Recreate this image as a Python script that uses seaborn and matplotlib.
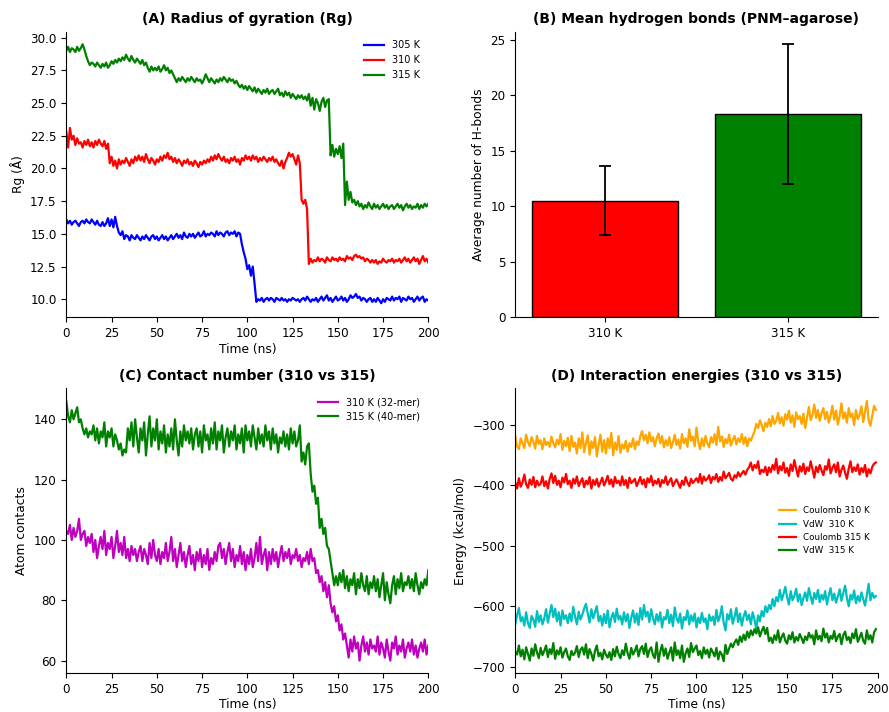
import numpy as np
import pandas as pd
import matplotlib
matplotlib.use("Agg")
import matplotlib.pyplot as plt
import seaborn as sns

# ---------------- Panel A: radius of gyration (t = 0..200 ns, 1 ns step) ----------------
rg_305 = [16.1, 15.8, 16.0, 15.7, 15.9, 16.0, 15.8, 15.6, 15.9, 16.0,
          15.8, 16.1, 15.9, 15.8, 16.1, 15.9, 15.7, 16.0, 15.7, 15.6,
          15.9, 15.6, 15.8, 16.2, 15.6, 16.1, 15.5, 16.3, 15.6, 15.1,
          14.9, 15.2, 14.6, 14.9, 14.8, 14.5, 14.9, 14.7, 14.6, 14.9,
          14.7, 14.5, 14.8, 14.6, 14.9, 14.7, 14.5, 14.8, 14.9, 14.6,
          14.8, 14.5, 14.7, 14.9, 14.6, 14.8, 14.5, 14.7, 14.9, 14.6,
          14.8, 15.0, 14.7, 14.9, 14.6, 15.1, 14.8, 14.7, 15.0, 14.8,
          15.0, 14.7, 14.9, 15.1, 14.8, 14.9, 15.2, 14.8, 15.0, 14.9,
          15.1, 15.0, 14.8, 15.2, 14.9, 15.1, 15.0, 14.8, 15.1, 15.2,
          14.9, 15.1, 15.0, 15.2, 14.8, 15.1, 15.0, 14.2, 13.6, 13.1,
          12.3, 12.6, 11.8, 12.5, 11.2, 9.8, 10.0, 9.9, 10.1, 9.8,
          10.0, 10.1, 9.9, 10.1, 10.0, 9.8, 10.1, 10.0, 9.9, 10.1,
          9.9, 10.0, 9.8, 10.0, 9.9, 10.1, 10.0, 9.9, 10.0, 9.8,
          10.0, 10.1, 9.9, 10.2, 10.0, 9.8, 10.0, 9.9, 10.1, 9.8,
          10.0, 10.2, 9.9, 10.1, 10.3, 9.9, 10.1, 9.8, 10.0, 10.2,
          9.9, 10.0, 10.2, 9.9, 10.1, 9.8, 10.0, 10.3, 10.1, 10.2,
          10.4, 10.1, 10.2, 9.9, 10.1, 10.0, 9.8, 10.0, 10.1, 9.8,
          10.0, 9.8, 10.1, 9.9, 9.7, 10.0, 9.8, 10.1, 10.0, 9.9,
          10.2, 9.9, 10.1, 10.0, 10.2, 9.8, 10.1, 10.0, 9.9, 10.2,
          10.0, 10.1, 9.8, 10.0, 10.2, 9.9, 10.1, 10.2, 9.8, 10.0,
          9.9]
rg_310 = [22.8, 21.6, 23.1, 22.2, 22.5, 21.8, 22.3, 21.9, 22.0, 21.6,
          22.1, 21.8, 22.2, 21.7, 22.0, 21.6, 22.1, 21.8, 22.2, 21.9,
          21.7, 22.1, 21.5, 21.9, 20.4, 20.9, 20.2, 20.6, 20.0, 20.7,
          20.3, 20.6, 20.4, 20.8, 20.5, 20.2, 20.7, 20.4, 20.9, 20.6,
          21.0, 20.6, 20.9, 20.5, 21.1, 20.7, 20.4, 20.8, 20.6, 20.3,
          20.7, 20.5, 20.9, 20.6, 21.0, 20.8, 21.2, 20.7, 20.9, 20.5,
          20.8, 20.4, 20.7, 20.5, 20.2, 20.6, 20.4, 20.7, 20.3, 20.5,
          20.2, 20.6, 20.4, 20.1, 20.5, 20.3, 20.6, 20.4, 20.7, 20.5,
          20.9, 20.6, 21.0, 20.7, 21.1, 20.8, 20.6, 20.9, 20.5, 20.7,
          20.4, 20.8, 20.6, 20.9, 20.5, 20.7, 20.3, 20.8, 20.6, 21.0,
          20.7, 20.9, 20.6, 21.0, 20.7, 20.9, 20.5, 20.8, 20.6, 20.9,
          20.7, 20.5, 20.8, 20.6, 20.9, 20.5, 20.7, 20.4, 20.2, 20.6,
          20.0, 20.5, 20.8, 21.2, 20.9, 21.1, 20.7, 20.3, 21.0, 20.4,
          17.6, 17.3, 17.6, 16.9, 12.7, 13.1, 12.8, 13.0, 12.9, 13.2,
          12.9, 13.1, 13.0, 12.8, 13.2, 13.0, 12.9, 13.2, 13.0, 13.1,
          12.9, 13.2, 13.0, 13.1, 12.9, 13.3, 13.1, 13.2, 13.0, 13.3,
          13.4, 13.2, 13.3, 13.1, 13.2, 12.9, 13.1, 13.0, 12.8, 13.0,
          12.8, 13.0, 12.7, 12.9, 12.8, 13.1, 12.9, 12.8, 13.0, 12.9,
          13.1, 12.8, 13.0, 12.9, 13.1, 12.8, 13.0, 13.2, 12.9, 13.1,
          12.8, 13.0, 13.2, 12.9, 13.1, 12.7, 13.0, 13.3, 12.9, 13.1,
          12.8]
rg_315 = [29.0, 29.3, 28.9, 29.2, 29.1, 28.9, 29.3, 29.0, 29.2, 29.5,
          29.1, 28.6, 28.2, 27.9, 28.1, 28.0, 27.8, 28.1, 27.9, 27.7,
          28.0, 27.8, 28.1, 27.7, 27.9, 28.2, 28.0, 28.3, 28.1, 28.4,
          28.2, 28.5, 28.3, 28.7, 28.4, 28.2, 28.6, 28.3, 28.1, 28.4,
          28.2, 28.0, 28.3, 27.9, 28.1, 27.7, 27.4, 27.8, 27.5, 27.7,
          27.5, 27.8, 27.4, 27.6, 27.9, 27.5, 27.7, 27.3, 27.5, 27.2,
          26.9, 26.6, 26.9, 26.7, 27.0, 26.8, 26.6, 26.9, 26.7, 27.0,
          26.8, 26.6, 26.9, 26.7, 26.8, 26.5, 26.8, 27.2, 26.9, 26.6,
          26.9, 26.7, 26.5, 26.8, 26.6, 26.9, 26.7, 27.0, 26.8, 26.6,
          26.9, 26.7, 26.8, 26.5, 26.7, 26.4, 26.2, 26.4, 26.1, 26.3,
          26.0, 26.3, 26.1, 25.9, 26.2, 25.8, 26.1, 25.9, 25.7, 26.0,
          25.8, 26.1, 25.7, 25.9, 26.0, 25.7, 25.9, 26.1, 25.6, 25.8,
          25.5, 25.9, 25.6, 25.8, 25.4, 25.7, 25.5, 25.3, 25.6, 25.4,
          25.6, 25.3, 25.5, 25.2, 25.7, 24.8, 25.4, 24.5, 25.3, 25.0,
          24.4, 25.1, 25.4, 24.7, 25.2, 25.3, 21.0, 21.8, 20.9, 21.5,
          21.1, 21.7, 20.8, 21.9, 17.2, 19.0, 17.6, 18.2, 17.4, 17.6,
          17.2, 17.5, 17.1, 17.3, 16.9, 17.2, 17.0, 17.4, 17.1, 16.9,
          17.3, 17.0, 17.2, 16.9, 17.1, 17.3, 17.0, 17.2, 16.9, 17.1,
          17.2, 16.9, 17.1, 17.3, 17.0, 17.2, 16.8, 17.1, 17.3, 17.0,
          17.2, 16.9, 17.1, 17.0, 17.3, 16.9, 17.2, 17.0, 17.3, 17.1,
          17.3]

# ---------------- Panel B: mean H-bonds ----------------
hb_labels = ["310 K", "315 K"]
hb_mean = [10.5, 18.3]
hb_sd = [3.1, 6.3]

# ---------------- Panel C: contact number (t = 0..200 ns) ----------------
cn_310 = [103, 102, 105, 100, 104, 101, 103, 107, 100, 102,
          103, 98, 101, 99, 102, 96, 100, 94, 98, 101,
          97, 103, 95, 99, 97, 101, 94, 98, 103, 96,
          99, 95, 101, 94, 97, 93, 98, 95, 97, 93,
          96, 98, 93, 97, 95, 92, 99, 94, 100, 95,
          93, 97, 92, 96, 94, 99, 93, 96, 101, 93,
          97, 91, 95, 99, 93, 96, 91, 95, 98, 92,
          95, 90, 96, 93, 97, 91, 95, 92, 97, 90,
          94, 92, 96, 93, 98, 99, 94, 97, 92, 96,
          99, 93, 97, 91, 95, 93, 98, 92, 96, 90,
          95, 92, 97, 91, 94, 99, 93, 101, 92, 95,
          97, 90, 96, 92, 97, 93, 96, 91, 95, 98,
          93, 96, 94, 97, 92, 95, 94, 97, 93, 95,
          91, 94, 93, 96, 92, 97, 93, 94, 89, 90,
          86, 88, 83, 86, 81, 85, 79, 76, 78, 73,
          75, 70, 72, 67, 69, 65, 61, 67, 63, 68,
          64, 66, 60, 65, 68, 63, 66, 62, 67, 64,
          65, 63, 68, 62, 66, 64, 61, 67, 63, 60,
          66, 64, 68, 62, 65, 63, 67, 61, 64, 66,
          63, 67, 62, 65, 61, 64, 66, 63, 67, 62,
          65]
cn_315 = [146, 141, 139, 143, 140, 142, 144, 139, 140, 137,
          135, 137, 134, 136, 135, 138, 133, 137, 132, 136,
          134, 139, 131, 136, 134, 137, 131, 135, 133, 130,
          132, 128, 130, 129, 137, 133, 139, 131, 140, 134,
          129, 137, 133, 139, 128, 135, 141, 131, 137, 133,
          140, 130, 136, 132, 138, 129, 135, 131, 137, 130,
          140, 133, 128, 136, 131, 138, 133, 136, 132, 137,
          130, 135, 137, 131, 136, 129, 138, 133, 135, 130,
          137, 132, 139, 130, 136, 133, 138, 129, 134, 137,
          131, 136, 133, 138, 130, 135, 132, 137, 129, 138,
          133, 136, 131, 138, 134, 130, 137, 132, 135, 131,
          138, 133, 136, 130, 137, 132, 135, 129, 134, 132,
          136, 131, 135, 130, 137, 132, 136, 131, 133, 138,
          126, 129, 125, 131, 132, 122, 116, 118, 112, 114,
          104, 107, 102, 104, 98, 97, 93, 89, 85, 88,
          85, 89, 86, 90, 84, 88, 83, 87, 85, 89,
          82, 87, 84, 89, 85, 83, 88, 82, 86, 84,
          88, 83, 87, 81, 85, 89, 80, 86, 82, 79,
          85, 88, 82, 87, 84, 89, 83, 86, 85, 88,
          84, 87, 83, 89, 85, 82, 86, 84, 87, 85,
          90]

# ---------------- Panel D: interaction energies (t = 0..199 ns) ----------------
coul_310 = [-318, -335, -340, -322, -330, -338, -316, -328, -335, -320,
            -327, -339, -318, -331, -325, -340, -322, -333, -328, -336,
            -319, -330, -337, -324, -332, -315, -341, -326, -335, -321,
            -343, -318, -336, -329, -347, -322, -338, -312, -345, -330,
            -317, -349, -327, -338, -320, -352, -333, -316, -344, -325,
            -347, -322, -338, -313, -350, -329, -341, -318, -346, -332,
            -339, -326, -344, -330, -336, -322, -340, -327, -333, -318,
            -310, -325, -316, -330, -312, -327, -320, -335, -322, -314,
            -330, -318, -337, -325, -334, -320, -338, -329, -316, -333,
            -324, -339, -315, -330, -322, -336, -307, -326, -319, -335,
            -304, -328, -340, -322, -335, -318, -330, -337, -320, -329,
            -315, -333, -303, -327, -319, -336, -323, -330, -316, -334,
            -325, -318, -332, -322, -328, -315, -331, -320, -335, -322,
            -326, -318, -311, -298, -305, -292, -300, -310, -296, -303,
            -290, -302, -285, -298, -293, -280, -297, -287, -301, -282,
            -291, -276, -296, -284, -303, -279, -290, -285, -298, -281,
            -305, -287, -270, -292, -283, -266, -288, -275, -293, -280,
            -272, -290, -278, -296, -284, -268, -291, -276, -299, -285,
            -264, -289, -279, -296, -272, -287, -281, -300, -275, -290,
            -283, -269, -295, -278, -260, -292, -301, -284, -268, -275]
vdw_310 = [-630, -615, -603, -625, -618, -632, -610, -628, -636, -616,
           -622, -634, -608, -626, -615, -630, -620, -605, -627, -612,
           -598, -618, -604, -625, -610, -632, -607, -621, -615, -628,
           -612, -625, -601, -617, -630, -609, -622, -614, -604, -596,
           -612, -627, -605, -620, -610, -600, -625, -616, -632, -613,
           -628, -607, -635, -619, -611, -626, -604, -622, -616, -630,
           -610, -625, -613, -636, -619, -607, -627, -612, -631, -603,
           -622, -598, -617, -609, -626, -605, -620, -630, -613, -625,
           -610, -635, -618, -622, -606, -628, -614, -633, -602, -620,
           -627, -612, -637, -618, -623, -607, -630, -615, -625, -612,
           -635, -619, -628, -611, -626, -620, -638, -614, -624, -617,
           -631, -606, -625, -616, -600, -627, -640, -613, -622, -605,
           -629, -618, -603, -626, -612, -632, -617, -608, -623, -614,
           -630, -610, -622, -638, -615, -625, -608, -617, -600, -610,
           -598, -605, -588, -600, -585, -592, -573, -590, -580, -568,
           -585, -597, -575, -590, -583, -571, -592, -580, -598, -586,
           -577, -591, -570, -584, -596, -578, -588, -573, -593, -581,
           -589, -575, -597, -582, -570, -590, -579, -594, -584, -572,
           -591, -578, -566, -586, -600, -581, -589, -574, -595, -583,
           -592, -577, -588, -599, -582, -563, -590, -578, -586, -583]
coul_315 = [-395, -405, -388, -402, -395, -382, -398, -404, -390, -399,
            -386, -403, -392, -400, -397, -385, -401, -393, -405, -389,
            -380, -396, -384, -399, -392, -403, -387, -395, -381, -398,
            -392, -404, -389, -397, -385, -401, -394, -388, -403, -392,
            -398, -386, -405, -391, -399, -389, -402, -395, -387, -400,
            -393, -384, -398, -390, -402, -386, -396, -392, -400, -385,
            -399, -391, -404, -387, -396, -393, -389, -401, -394, -386,
            -398, -390, -403, -388, -395, -384, -400, -392, -397, -389,
            -402, -391, -396, -385, -399, -393, -388, -401, -395, -390,
            -397, -404, -392, -399, -386, -395, -401, -389, -396, -392,
            -388, -395, -381, -397, -385, -392, -389, -383, -396, -386,
            -390, -381, -394, -386, -392, -377, -388, -384, -379, -389,
            -392, -383, -387, -378, -385, -380, -376, -382, -374, -370,
            -362, -375, -366, -371, -360, -381, -374, -378, -369, -383,
            -370, -378, -366, -374, -356, -380, -368, -375, -362, -379,
            -371, -384, -365, -376, -358, -372, -385, -368, -377, -364,
            -381, -370, -376, -360, -373, -387, -369, -378, -366, -375,
            -383, -368, -374, -357, -380, -371, -365, -378, -362, -385,
            -374, -367, -379, -389, -372, -360, -378, -370, -376, -365,
            -382, -371, -378, -366, -385, -373, -380, -369, -364, -362]
vdw_315 = [-675, -680, -665, -683, -672, -688, -668, -679, -690, -670,
           -682, -663, -677, -686, -669, -681, -674, -665, -684, -671,
           -679, -661, -687, -673, -680, -668, -685, -676, -670, -683,
           -689, -674, -681, -677, -666, -684, -672, -668, -680, -663,
           -686, -671, -679, -690, -674, -665, -683, -677, -688, -672,
           -680, -685, -676, -689, -671, -683, -667, -679, -686, -673,
           -681, -662, -678, -687, -669, -680, -674, -665, -683, -671,
           -666, -679, -662, -684, -673, -668, -681, -686, -660, -692,
           -675, -664, -682, -670, -687, -677, -668, -690, -660, -681,
           -673, -686, -665, -692, -678, -670, -684, -661, -676, -670,
           -665, -681, -674, -686, -668, -679, -672, -685, -670, -676,
           -683, -669, -688, -675, -680, -691, -664, -679, -670, -662,
           -668, -660, -655, -664, -650, -659, -647, -656, -642, -652,
           -640, -648, -638, -645, -635, -650, -641, -634, -646, -636,
           -658, -652, -661, -648, -656, -640, -660, -651, -645, -657,
           -662, -648, -655, -643, -660, -651, -657, -646, -653, -661,
           -650, -656, -644, -652, -648, -663, -640, -655, -649, -658,
           -637, -652, -645, -660, -649, -654, -641, -658, -650, -646,
           -663, -648, -642, -656, -651, -661, -645, -653, -638, -659,
           -652, -644, -657, -662, -640, -655, -648, -660, -643, -638]

t_a = np.arange(len(rg_305))
t_c = np.arange(len(cn_310))
t_d = np.arange(len(coul_310))

plt.rcParams['font.family'] = ['DejaVu Sans']
fig = plt.figure(figsize=(8.89, 7.12), dpi=100)
axA = fig.add_axes([0.0746, 0.5544, 0.4072, 0.4011])
axB = fig.add_axes([0.5796, 0.5544, 0.4077, 0.4011])
axC = fig.add_axes([0.0746, 0.0544, 0.4072, 0.4003])
axD = fig.add_axes([0.5796, 0.0544, 0.4077, 0.4003])

TFS = 10
LFS = 8.8
KFS = 8.6
LW = 1.6

# A
for vals, col, lab in [(rg_305, 'blue', '305 K'), (rg_310, 'red', '310 K'), (rg_315, 'green', '315 K')]:
    sns.lineplot(x=t_a, y=vals, color=col, lw=LW, label=lab, ax=axA)
axA.set_xlim(0, 200)
axA.set_ylim(8.62, 30.46)
axA.set_yticks([10.0, 12.5, 15.0, 17.5, 20.0, 22.5, 25.0, 27.5, 30.0])
axA.set_xlabel('Time (ns)', fontsize=LFS, labelpad=2)
axA.set_ylabel('Rg (Å)', fontsize=LFS)
axA.set_title('(A) Radius of gyration (Rg)', fontsize=TFS, fontweight='bold')
axA.legend(loc='upper right', frameon=False, fontsize=7)

# B
dfB = pd.DataFrame({'T': hb_labels, 'hb': hb_mean})
sns.barplot(data=dfB, x='T', y='hb', hue='T', palette=['red', 'green'], width=0.8,
            edgecolor='black', linewidth=1.0, legend=False, ax=axB, saturation=1)
axB.errorbar(x=np.arange(len(hb_mean)), y=hb_mean, yerr=hb_sd, fmt='none',
             ecolor='black', elinewidth=1.3, capsize=4, capthick=1.3)
axB.set_xlim(-0.49, 1.49)
axB.set_ylim(0, 25.75)
axB.set_xlabel('')
axB.set_ylabel('Average number of H-bonds', fontsize=LFS)
axB.set_title('(B) Mean hydrogen bonds (PNM–agarose)', fontsize=TFS, fontweight='bold')

# C
sns.lineplot(x=t_c, y=cn_310, color='m', lw=LW, label='310 K (32-mer)', ax=axC)
sns.lineplot(x=t_c, y=cn_315, color='green', lw=LW, label='315 K (40-mer)', ax=axC)
axC.set_xlim(0, 200)
axC.set_ylim(55.8, 150.3)
axC.set_xlabel('Time (ns)', fontsize=LFS, labelpad=1.5)
axC.set_ylabel('Atom contacts', fontsize=LFS)
axC.set_title('(C) Contact number (310 vs 315)', fontsize=TFS, fontweight='bold')
axC.legend(loc='upper right', frameon=False, fontsize=7)

# D
for vals, col, lab in [(coul_310, 'orange', 'Coulomb 310 K'), (vdw_310, 'c', 'VdW  310 K'),
                       (coul_315, 'red', 'Coulomb 315 K'), (vdw_315, 'green', 'VdW  315 K')]:
    sns.lineplot(x=t_d, y=vals, color=col, lw=LW, label=lab, ax=axD)
axD.set_xlim(0, 200)
axD.set_ylim(-711, -239)
axD.set_xlabel('Time (ns)', fontsize=LFS, labelpad=1.5)
axD.set_ylabel('Energy (kcal/mol)', fontsize=LFS)
axD.set_title('(D) Interaction energies (310 vs 315)', fontsize=TFS, fontweight='bold')
axD.legend(loc='center right', frameon=False, fontsize=6.3)

for ax in (axA, axB, axC, axD):
    ax.tick_params(labelsize=KFS)
    sns.despine(ax=ax)

fig.savefig('out.png', dpi=100)
